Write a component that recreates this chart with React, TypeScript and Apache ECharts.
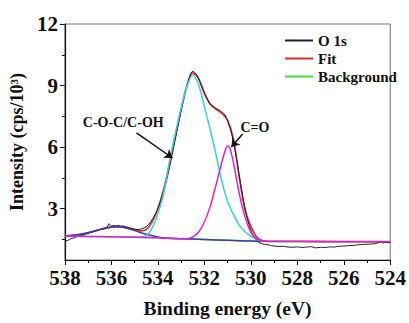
import React, { useEffect, useRef } from "react";
import * as echarts from "echarts";

// Measured O 1s spectrum (binding energy eV, intensity cps/10^3)
const o1sData: number[][] = [
  [538.0, 1.46], [537.9, 1.44], [537.8, 1.5], [537.7, 1.55], [537.6, 1.58], [537.5, 1.63],
  [537.4, 1.66], [537.3, 1.7], [537.2, 1.72], [537.1, 1.76], [537.0, 1.8], [536.9, 1.83],
  [536.8, 1.86], [536.7, 1.9], [536.6, 1.93], [536.5, 1.97], [536.4, 2.01], [536.3, 2.04],
  [536.2, 2.08], [536.1, 2.27], [536.0, 2.15], [535.9, 2.18], [535.8, 2.16], [535.7, 2.19],
  [535.6, 2.15], [535.5, 2.16], [535.4, 2.12], [535.3, 2.1], [535.2, 2.06], [535.1, 2.04],
  [535.0, 2.01], [534.9, 1.98], [534.8, 1.99], [534.7, 2.02], [534.6, 2.06], [534.5, 2.12],
  [534.4, 2.22], [534.3, 2.38], [534.2, 2.55], [534.1, 2.75], [534.0, 3.0], [533.9, 3.3],
  [533.8, 3.65], [533.7, 4.05], [533.6, 4.5], [533.5, 5.0], [533.4, 5.55], [533.3, 6.1],
  [533.2, 6.65], [533.1, 7.2], [533.0, 7.75], [532.9, 8.25], [532.8, 8.75], [532.7, 9.2],
  [532.6, 9.58], [532.5, 9.7], [532.45, 9.68], [532.4, 9.62], [532.3, 9.48], [532.2, 9.2],
  [532.1, 8.9], [532.0, 8.62], [531.9, 8.38], [531.8, 8.18], [531.7, 8.05], [531.6, 7.98],
  [531.5, 7.88], [531.4, 7.84], [531.3, 7.75], [531.2, 7.68], [531.1, 7.56], [531.0, 7.3],
  [530.9, 6.95], [530.8, 6.55], [530.7, 6.0], [530.6, 5.35], [530.5, 4.65], [530.4, 3.95],
  [530.3, 3.3], [530.2, 2.75], [530.1, 2.3], [530.0, 1.95], [529.9, 1.68], [529.8, 1.5],
  [529.7, 1.38], [529.6, 1.32], [529.5, 1.28], [529.4, 1.26], [529.3, 1.25], [529.2, 1.22],
  [529.1, 1.2], [529.0, 1.18], [528.8, 1.16], [528.6, 1.17], [528.4, 1.13], [528.2, 1.12],
  [528.0, 1.14], [527.8, 1.11], [527.6, 1.13], [527.4, 1.15], [527.2, 1.09], [527.0, 1.12],
  [526.8, 1.11], [526.6, 1.14], [526.4, 1.13], [526.2, 1.17], [526.0, 1.18], [525.8, 1.2],
  [525.6, 1.21], [525.4, 1.24], [525.2, 1.25], [525.0, 1.27], [524.8, 1.28], [524.6, 1.3],
  [524.4, 1.4], [524.3, 1.33], [524.2, 1.36], [524.0, 1.34],
];

const fitData: number[][] = [
  [538, 1.68], [537.5, 1.72], [537, 1.83], [536.5, 1.99], [536, 2.12], [535.5, 2.1],
  [535, 1.97], [534.75, 1.92], [534.5, 1.98], [534.25, 2.35], [534, 3.0], [533.75, 3.95],
  [533.5, 5.2], [533.25, 6.55], [533, 7.85], [532.75, 9.0], [532.5, 9.62], [532.25, 9.35],
  [532, 8.65], [531.75, 8.1], [531.5, 7.85], [531.25, 7.65], [531, 7.3], [530.75, 6.4],
  [530.5, 4.55], [530.25, 2.95], [530, 2.15], [529.75, 1.62], [529.5, 1.45], [529, 1.4],
  [528, 1.4], [526, 1.39], [524, 1.39],
];

const backgroundData: number[][] = [
  [538, 1.66], [537, 1.65], [536, 1.63], [535, 1.61], [534, 1.58], [533, 1.54],
  [532, 1.5], [531, 1.46], [530, 1.42], [529.5, 1.4], [529, 1.4], [524, 1.39],
];

const peakHighData: number[][] = [
  [538, 1.68], [537.5, 1.73], [537, 1.83], [536.5, 1.98], [536, 2.1], [535.75, 2.12],
  [535.5, 2.09], [535, 1.93], [534.5, 1.75], [534, 1.62], [533.5, 1.56], [533, 1.54],
  [532, 1.5], [531, 1.46], [530, 1.42], [529.5, 1.4],
];

const cocData: number[][] = [
  [535.5, 1.61], [535, 1.61], [534.75, 1.62], [534.5, 1.68], [534.25, 2.05], [534, 2.75],
  [533.75, 3.75], [533.5, 5.3], [533.25, 6.65], [533, 7.9], [532.75, 8.95], [532.5, 9.52],
  [532.25, 9.05], [532, 8.0], [531.75, 6.85], [531.5, 5.65], [531.25, 4.35], [531, 3.35],
  [530.75, 2.72], [530.5, 2.2], [530.25, 1.88], [530, 1.66], [529.75, 1.5], [529.5, 1.42],
];

const coData: number[][] = [
  [538, 1.67], [536, 1.63], [534, 1.58], [533, 1.54], [532.75, 1.54], [532.5, 1.62],
  [532.25, 1.85], [532, 2.35], [531.75, 3.1], [531.5, 4.15], [531.25, 5.25], [531.1, 5.85],
  [531, 6.06], [530.9, 5.95], [530.75, 5.25], [530.5, 3.75], [530.25, 2.6], [530, 1.85],
  [529.75, 1.53], [529.5, 1.43], [529, 1.41], [528, 1.41], [524, 1.4],
];

const yMajorTicks = [3, 6, 9, 12];
const yMinorTicks = [1.5, 4.5, 7.5, 10.5];
const legendNames = ["O 1s", "Fit", "Background"];

// annotation anchors in data coordinates
const cocLabelAt = [535.49, 7.22];
const cocArrow = [[534.92, 6.7], [533.37, 5.47]];
const coLabelAt = [529.82, 6.98];
const coArrow = [[530.35, 6.64], [530.84, 6.01]];

const FONT = '"Liberation Serif", "Times New Roman", serif';

export default function App() {
  const ref = useRef<HTMLDivElement>(null);
  useEffect(() => {
    if (!ref.current) return;
    const chart = echarts.init(ref.current, undefined, { renderer: "svg" });
    const txt = { fontFamily: FONT, fontWeight: "bold", color: "#111" };
    const arrowLine = (pts: number[][]) => ({
      silent: true,
      symbol: ["none", "arrow"],
      symbolSize: 8,
      label: { show: false },
      lineStyle: { color: "#111", width: 1.5, type: "solid" },
      data: [[{ coord: pts[0] }, { coord: pts[1] }]],
    });
    const textPoint = (at: number[], text: string) => ({
      silent: true,
      symbol: "circle",
      symbolSize: 0,
      label: { show: true, position: "inside", formatter: text, ...txt, fontSize: 14 },
      data: [{ coord: at }],
    });
    chart.setOption({
      animation: false,
      backgroundColor: "#fff",
      grid: { left: 62, right: 15, top: 24, bottom: 53, show: true, borderColor: "#777", borderWidth: 1 },
      legend: {
        data: legendNames,
        orient: "vertical",
        left: 280,
        top: 28,
        icon: "rect",
        itemWidth: 28,
        itemHeight: 2,
        itemGap: 3,
        textStyle: { ...txt, fontSize: 15, lineHeight: 15 },
      },
      xAxis: {
        type: "value",
        min: 524,
        max: 538,
        interval: 2,
        inverse: true,
        name: "Binding energy (eV)",
        nameLocation: "middle",
        nameGap: 38,
        nameTextStyle: { ...txt, fontSize: 19.5 },
        axisLine: { show: true, onZero: false, lineStyle: { color: "#111", width: 1.2 } },
        axisTick: { show: true, length: 5, lineStyle: { color: "#111" } },
        minorTick: { show: true, splitNumber: 2, length: 3, lineStyle: { color: "#111" } },
        splitLine: { show: false },
        axisLabel: { ...txt, fontSize: 21, margin: 7 },
      },
      yAxis: [
        {
          type: "value",
          min: 0.5,
          max: 12,
          name: "Intensity (cps/10³)",
          nameLocation: "middle",
          nameGap: 27,
          nameTextStyle: { ...txt, fontSize: 18 },
          axisLine: { show: true, onZero: false, lineStyle: { color: "#111", width: 1.2 } },
          axisTick: { show: true, length: 5, customValues: yMajorTicks, lineStyle: { color: "#111" } },
          splitLine: { show: false },
          axisLabel: { ...txt, fontSize: 21, margin: 7, customValues: yMajorTicks },
        },
        {
          type: "value",
          min: 0.5,
          max: 12,
          position: "left",
          axisLine: { show: false },
          axisTick: { show: true, length: 3, customValues: yMinorTicks, lineStyle: { color: "#111" } },
          axisLabel: { show: false },
          splitLine: { show: false },
        },
      ],
      series: [
        { name: "Background", type: "line", data: backgroundData, showSymbol: false, symbol: "none",
          lineStyle: { color: "#44dd44", width: 1.5 }, itemStyle: { color: "#44dd44" } },
        { name: "Fit", type: "line", data: fitData, smooth: 0.3, showSymbol: false, symbol: "none",
          lineStyle: { color: "#e02828", width: 1.6 }, itemStyle: { color: "#e02828" } },
        { name: "O 1s", type: "line", data: o1sData, showSymbol: false, symbol: "none",
          lineStyle: { color: "#222", width: 1 }, itemStyle: { color: "#222" } },
        { name: "Peak 535.8", type: "line", data: peakHighData, smooth: 0.3, showSymbol: false, symbol: "none",
          lineStyle: { color: "#3c3cb4", width: 1.5 } },
        { name: "C-O-C/C-OH", type: "line", data: cocData, smooth: 0.3, showSymbol: false, symbol: "none",
          lineStyle: { color: "#30d4e0", width: 1.5 },
          markLine: arrowLine(cocArrow), markPoint: textPoint(cocLabelAt, "C-O-C/C-OH") },
        { name: "C=O", type: "line", data: coData, smooth: 0.3, showSymbol: false, symbol: "none",
          lineStyle: { color: "#dd22dd", width: 1.5 },
          markLine: arrowLine(coArrow), markPoint: textPoint(coLabelAt, "C=O") },
      ],
    });
    return () => chart.dispose();
  }, []);
  return <div ref={ref} style={{ position: "absolute", left: 0, top: 0, width: 409, height: 323 }} />;
}
